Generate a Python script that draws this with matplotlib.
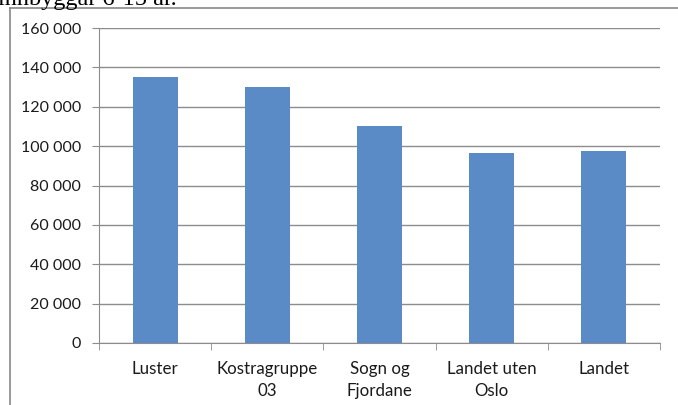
import matplotlib.pyplot as plt
from matplotlib.lines import Line2D
from matplotlib.ticker import FixedLocator, FuncFormatter

categories = ['Luster', 'Kostragruppe\n03', 'Sogn og\nFjordane', 'Landet uten\nOslo', 'Landet']
values = [135200, 130000, 110300, 96400, 97600]
yticks = [0, 20000, 40000, 60000, 80000, 100000, 120000, 140000, 160000]

plt.rcParams['font.family'] = ['Lato', 'DejaVu Sans']

W, H = 678, 405
fig = plt.figure(figsize=(W / 100, H / 100), dpi=100)
ax = fig.add_axes([99 / W, 1 - 343 / H, (660 - 99) / W, (343 - 28) / H])

x = list(range(len(categories)))
ax.bar(x, values, width=0.4, color='#5b8bc7', zorder=3)

ax.set_xlim(-0.5, len(categories) - 0.5)
ax.set_ylim(0, 160000)
ax.set_yticks(yticks)
ax.yaxis.set_major_formatter(FuncFormatter(lambda v, p: f'{int(v):,}'.replace(',', ' ')))
ax.grid(axis='y', color='#8c8c8c', linewidth=1, zorder=0)

ax.set_xticks(x)
ax.set_xticklabels(categories, linespacing=1.45)
ax.xaxis.set_minor_locator(FixedLocator([i - 0.5 for i in range(len(categories) + 1)]))
ax.tick_params(axis='x', which='major', length=0, pad=13, labelsize=12.2, colors='#1a1a1a')
ax.tick_params(axis='x', which='minor', length=5, color='#8c8c8c', direction='out')
ax.tick_params(axis='y', length=5, color='#8c8c8c', pad=8, labelsize=11.5, labelcolor='#1a1a1a')

for s in ['top', 'right']:
    ax.spines[s].set_visible(False)
for s in ['left', 'bottom']:
    ax.spines[s].set_color('#8c8c8c')

# outer chart frame (partially cropped)
fig.add_artist(Line2D([10 / W, 10 / W], [0, 1 - 8 / H], color='#888888', linewidth=1.2))
fig.add_artist(Line2D([10 / W, 1], [1 - 8 / H, 1 - 8 / H], color='#888888', linewidth=1.2))

# cropped caption text from the page above
fig.text(-2 / W, 1 - 5 / H, 'innbyggar 6-15 år.', family='Liberation Serif', fontsize=17.5,
         va='baseline', ha='left', color='black')

fig.savefig('out.png', dpi=100)
